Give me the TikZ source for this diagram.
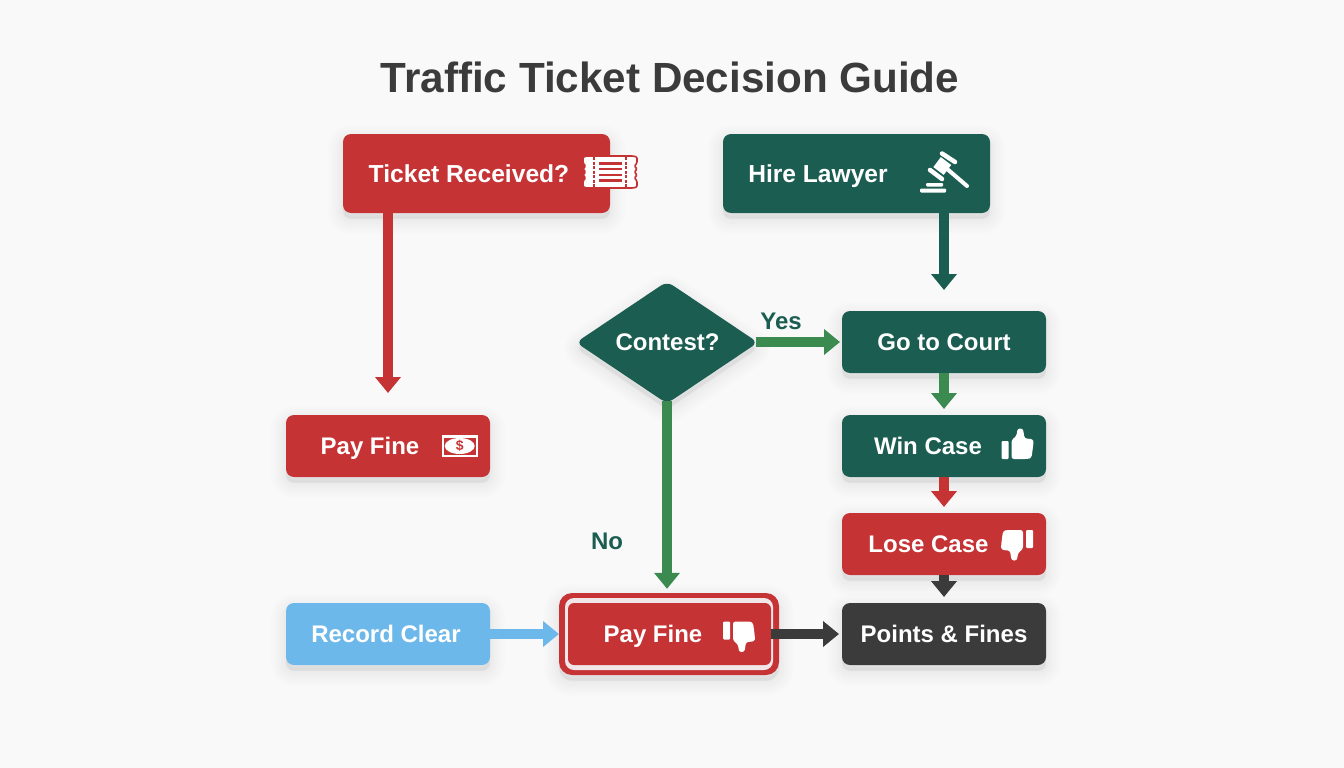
\documentclass[tikz,border=0pt]{standalone}
\usepackage{fontspec}
\setmainfont{Liberation Sans}
\usetikzlibrary{shapes.geometric,arrows.meta}
\definecolor{bgc}{HTML}{F9F9FA}
\definecolor{redc}{HTML}{C53335}
\definecolor{greenc}{HTML}{1B5E51}
\definecolor{arrowg}{HTML}{3B8A50}
\definecolor{bluec}{HTML}{6DB8EA}
\definecolor{darkc}{HTML}{3B3B3B}
\definecolor{ringc}{HTML}{F1E6E8}
\tikzset{
  softshadow/.style={
    preaction={draw=black,fill=black,draw opacity=.006,fill opacity=.006,line width=30pt,transform canvas={yshift=-6pt}},
    preaction={draw=black,fill=black,draw opacity=.007,fill opacity=.007,line width=25pt,transform canvas={yshift=-6pt}},
    preaction={draw=black,fill=black,draw opacity=.008,fill opacity=.008,line width=20pt,transform canvas={yshift=-6pt}},
    preaction={draw=black,fill=black,draw opacity=.009,fill opacity=.009,line width=15pt,transform canvas={yshift=-6pt}},
    preaction={draw=black,fill=black,draw opacity=.010,fill opacity=.010,line width=10pt,transform canvas={yshift=-6pt}},
    preaction={draw=black,fill=black,draw opacity=.010,fill opacity=.010,line width=5pt,transform canvas={yshift=-5pt}}},
  box/.style={rectangle,rounded corners=8pt,inner sep=0pt,outer sep=0pt,softshadow},
  bigbox/.style={box,minimum width=267pt,minimum height=79pt},
  midbox/.style={box,minimum width=204pt,minimum height=62pt},
  lab/.style={text=white,font=\bfseries\fontsize{24}{28}\selectfont,inner sep=0pt,text height=20pt,text depth=2.8pt},
  biglab/.style={lab,font=\bfseries\fontsize{24.6}{28}\selectfont},
  edgelab/.style={text=greenc,font=\bfseries\fontsize{24}{28}\selectfont,inner sep=0pt,text height=20pt,text depth=2.8pt},
  conn/.style={line width=10pt,-{Triangle[length=16pt,width=25pt]}},
  pics/thumb/.style={code={
    \fill[white,rounded corners=1pt] (-16,-3) rectangle (-9,15);
    \fill[white,rounded corners=2.5pt] (-6,-4) -- (-1,-8) -- (0,-15.5) -- (5.5,-15.5) -- (7,-5.5) -- (15.5,-5) -- (16,-1) -- (14,14) -- (10,15) -- (-6,15) -- cycle;
  }}
}
\begin{document}
\begin{tikzpicture}[x=1pt,y=-1pt]
\useasboundingbox (0,0) rectangle (1344,768);
\fill[bgc] (0,0) rectangle (1344,768);
\node[text=darkc,font=\bfseries\fontsize{42.2}{48}\selectfont,inner sep=0pt] (title) at (670,77) {Traffic Ticket Decision Guide};

% boxes
\node[bigbox,fill=redc] (ticket) at (476.5,173.5) {};
\node[bigbox,fill=greenc] (hire) at (856.5,173.5) {};
\node[diamond,fill=greenc,minimum width=182pt,minimum height=122pt,inner sep=0pt,outer sep=0pt,rounded corners=7pt,softshadow] (contest) at (667,342.5) {};
\node[midbox,fill=greenc] (court) at (944,342) {};
\node[midbox,fill=greenc] (win) at (944,446) {};
\node[midbox,fill=redc] (lose) at (944,544) {};
\node[midbox,fill=darkc] (points) at (944,634) {};
\node[midbox,fill=redc] (payleft) at (388,446) {};
\node[midbox,fill=bluec] (record) at (388,634) {};
\node[box,fill=redc,minimum width=220pt,minimum height=82pt,rounded corners=13pt] (payouter) at (669,634) {};
\node[rectangle,fill=ringc,minimum width=208pt,minimum height=72pt,inner sep=0pt,rounded corners=9pt] (payring) at (669,634) {};
\node[rectangle,fill=redc,minimum width=203pt,minimum height=62pt,inner sep=0pt,rounded corners=6pt] (paymid) at (669.5,634) {};

% connectors
\draw[conn,redc,shorten >=22pt] (ticket.south -| payleft.north) -- (payleft.north);
\draw[conn,greenc,shorten >=21pt] (hire.south -| court.north) -- (court.north);
\draw[conn,arrowg,shorten <=-2.5pt,shorten >=2pt] (contest.east |- court.west) -- (court.west);
\draw[conn,arrowg,shorten <=-2.5pt,shorten >=14pt] (contest.south) -- (contest.south |- paymid.north);
\draw[conn,arrowg,shorten >=6pt] (court.south) -- (win.north);
\draw[conn,redc,shorten >=6pt] (win.south) -- (lose.north);
\draw[conn,darkc,shorten >=6pt] (lose.south) -- (points.north);
\draw[conn,bluec,shorten >=0pt] (record.east) -- (payouter.west);
\draw[conn,darkc,shorten >=3pt] (paymid.east) -- (points.west);

% labels
\node[biglab] (t1) at (469,173.5) {Ticket Received?};
\node[biglab] (t2) at (818,173.5) {Hire Lawyer};
\node[lab] (t3) at (667.5,341.5) {Contest?};
\node[lab] (t4) at (944,341.5) {Go to Court};
\node[lab] (t5) at (928,446) {Win Case};
\node[lab] (t6) at (928.5,543.5) {Lose Case};
\node[lab] (t7) at (944,633.5) {Points \& Fines};
\node[lab] (t8) at (370,446) {Pay Fine};
\node[lab] (t9) at (386,633.5) {Record Clear};
\node[lab] (t10) at (653,633.5) {Pay Fine};
\node[edgelab] (yes) at (781,321) {Yes};
\node[edgelab] (no) at (607,541) {No};

% ticket icon
\filldraw[fill=white,draw=redc,line width=1.6pt,rounded corners=1.2pt]
  (587,156) -- (633,156) -- (637,157) -- (637,163) -- (634.5,166) -- (637,169) -- (634.5,172) -- (637,175) -- (634.5,178) -- (637,181) -- (637,187) -- (633,188) -- (587,188) -- (583,187) -- (583,181) -- (585.5,178) -- (583,175) -- (585.5,172) -- (583,169) -- (585.5,166) -- (583,163) -- (583,157) -- cycle;
\draw[redc,line width=1.5pt,dash pattern=on 3pt off 1.5pt] (594,157) -- (594,187);
\draw[redc,line width=1.5pt,dash pattern=on 3pt off 1.5pt] (626,157) -- (626,187);
\foreach \yy in {163.5,169,175,180.5}{\draw[redc,line width=2.6pt] (599,\yy) -- (622,\yy);}

% gavel icon
\draw[white,line width=4pt,line cap=round] (946,168) -- (967,186);
\draw[white,line width=13pt] (946,161) -- (938.5,171);
\draw[white,line width=4.5pt,line cap=round] (942,153.5) -- (955,162);
\draw[white,line width=4.5pt,line cap=round] (930,170) -- (942,179);
\fill[white,rounded corners=1pt] (926,183) rectangle (943,186.5);
\fill[white,rounded corners=1pt] (920,188.5) rectangle (946,192.5);

% money icon
\fill[white] (441.5,435) rectangle (478,457);
\fill[redc] (444,437.5) rectangle (475.5,454.5);
\fill[white] (459.7,446) ellipse (15 and 8);
\node[text=redc,font=\bfseries\fontsize{14}{16}\selectfont,inner sep=0pt] (dollar) at (459.7,446) {\$};

% thumbs
\pic at (1017.5,444) {thumb};
\pic[rotate=180] at (1017,545) {thumb};
\pic[yscale=-1] at (739,636.5) {thumb};
\end{tikzpicture}
\end{document}
